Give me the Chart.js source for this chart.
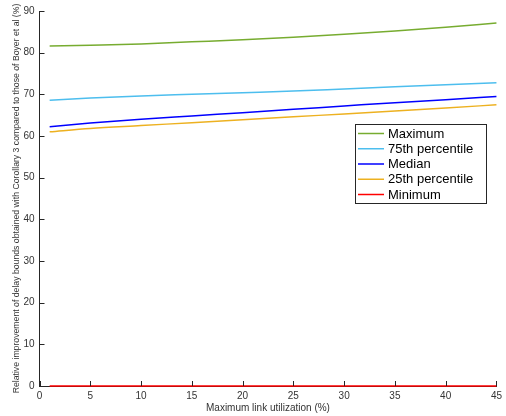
<!DOCTYPE html>
<html>
<head>
<meta charset="utf-8">
<script src="https://cdn.jsdelivr.net/npm/chart.js@4.4.1/dist/chart.umd.min.js"></script>
<style>
  html, body { margin: 0; padding: 0; background: #ffffff; }
  #wrap { width: 506px; height: 416px; position: relative; }
</style>
</head>
<body>
<div id="wrap"><canvas id="c" width="506" height="416"></canvas></div>
<script>
// Maximum link utilization (%)
const utilization = [1, 5, 10, 15, 20, 25, 30, 35, 40, 45];

// Relative improvement (%) per statistic
const maximumVals   = [81.6, 81.8, 82.1, 82.6, 83.1, 83.7, 84.4, 85.2, 86.1, 87.1];
const p75Vals       = [68.6, 69.1, 69.6, 70.0, 70.4, 70.8, 71.3, 71.8, 72.3, 72.8];
const medianVals    = [62.2, 63.1, 64.0, 64.8, 65.6, 66.4, 67.2, 68.0, 68.7, 69.5];
const p25Vals       = [61.0, 61.8, 62.5, 63.2, 63.9, 64.6, 65.3, 66.0, 66.7, 67.5];
const minimumVals   = [0, 0, 0, 0, 0, 0, 0, 0, 0, 0];

const seriesNames = ['Maximum', '75th percentile', 'Median', '25th percentile', 'Minimum'];
const seriesColors = ['#77AC30', '#4DBEEE', '#0000FF', '#EDB120', '#FF0000'];
const seriesValues = [maximumVals, p75Vals, medianVals, p25Vals, minimumVals];

const xTicks = [0, 5, 10, 15, 20, 25, 30, 35, 40, 45];
const yTicks = [0, 10, 20, 30, 40, 50, 60, 70, 80, 90];

const FONT = 'Liberation Sans, Arial, Helvetica, sans-serif';
const AXIS_COLOR = '#262626';

const datasets = seriesNames.map((name, i) => ({
  label: name,
  data: utilization.map((u, k) => ({ x: u, y: seriesValues[i][k] })),
  borderColor: seriesColors[i],
  backgroundColor: seriesColors[i],
  borderWidth: 1.5,
  pointRadius: 0,
  cubicInterpolationMode: 'monotone',
  fill: false,
  clip: false
}));

// Inward tick marks on the left and bottom axes
const inwardTicks = {
  id: 'inwardTicks',
  afterDatasetsDraw(chart) {
    const { ctx, scales: { x, y }, chartArea } = chart;
    ctx.save();
    ctx.strokeStyle = AXIS_COLOR;
    ctx.lineWidth = 1;
    ctx.beginPath();
    yTicks.forEach(v => {
      const py = Math.round(y.getPixelForValue(v)) + 0.5;
      ctx.moveTo(chartArea.left, py);
      ctx.lineTo(chartArea.left + 5, py);
    });
    xTicks.forEach(v => {
      const px = Math.round(x.getPixelForValue(v)) + 0.5;
      ctx.moveTo(px, chartArea.bottom);
      ctx.lineTo(px, chartArea.bottom - 5);
    });
    ctx.stroke();
    ctx.restore();
  }
};

// Boxed legend inside the plot area
const boxLegend = {
  id: 'boxLegend',
  afterDraw(chart) {
    const { ctx } = chart;
    const left = 355, top = 124, w = 131, h = 79;
    ctx.save();
    ctx.fillStyle = '#ffffff';
    ctx.fillRect(left, top, w, h);
    ctx.strokeStyle = '#262626';
    ctx.lineWidth = 1;
    ctx.strokeRect(left + 0.5, top + 0.5, w, h);
    ctx.font = '13px ' + FONT;
    ctx.textBaseline = 'middle';
    ctx.textAlign = 'left';
    chart.data.datasets.forEach((ds, i) => {
      const cy = top + 9.5 + i * 15.25;
      ctx.strokeStyle = ds.borderColor;
      ctx.lineWidth = 1.5;
      ctx.beginPath();
      ctx.moveTo(358, cy);
      ctx.lineTo(384, cy);
      ctx.stroke();
      ctx.fillStyle = '#000000';
      ctx.fillText(ds.label, 388, cy + 0.5);
    });
    ctx.restore();
  }
};

new Chart(document.getElementById('c'), {
  type: 'line',
  data: { datasets },
  options: {
    responsive: false,
    animation: false,
    layout: { padding: { left: 0, top: 4.5, right: 8, bottom: 0 } },
    plugins: {
      legend: { display: false },
      tooltip: { enabled: false }
    },
    scales: {
      x: {
        type: 'linear',
        min: 0,
        max: 45,
        afterBuildTicks(scale) { scale.ticks = xTicks.map(v => ({ value: v })); },
        afterFit(scale) { scale.height = 30; },
        grid: { display: true, drawOnChartArea: false, drawTicks: false },
        border: { display: true, color: AXIS_COLOR, width: 1 },
        ticks: { font: { family: FONT, size: 10 }, color: '#333333', padding: 4, maxRotation: 0 },
        title: {
          display: true,
          text: 'Maximum link utilization (%)',
          font: { family: FONT, size: 10 },
          color: '#333333',
          padding: { top: 0, bottom: 2 }
        }
      },
      y: {
        type: 'linear',
        min: 0,
        max: 90,
        afterBuildTicks(scale) { scale.ticks = yTicks.map(v => ({ value: v })); },
        afterFit(scale) { scale.width = 39.5; },
        grid: { display: true, drawOnChartArea: false, drawTicks: false },
        border: { display: true, color: AXIS_COLOR, width: 1 },
        ticks: { font: { family: FONT, size: 10 }, color: '#333333', padding: 5 },
        title: {
          display: true,
          text: 'Relative improvement of delay bounds obtained with Corollary 3 compared to those of Boyer et al (%)',
          font: { family: FONT, size: 8.7 },
          color: '#333333',
          padding: { top: 11, bottom: 0 }
        }
      }
    }
  },
  plugins: [inwardTicks, boxLegend]
});
</script>
</body>
</html>
